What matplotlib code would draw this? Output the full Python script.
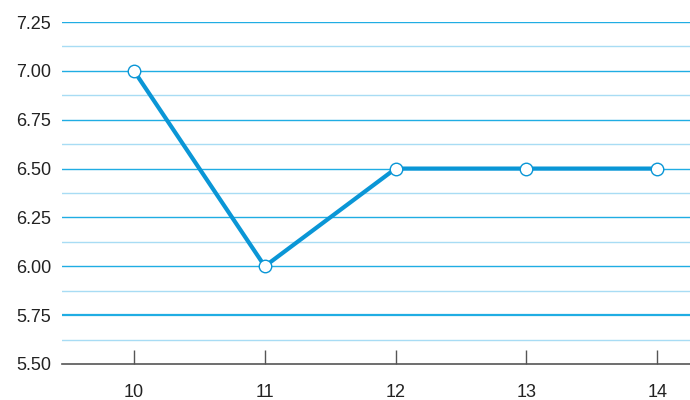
import matplotlib
matplotlib.use("Agg")
import matplotlib.pyplot as plt
import numpy as np

categories = [10, 11, 12, 13, 14]
values = [7.0, 6.0, 6.5, 6.5, 6.5]
y_ticks = [5.50, 5.75, 6.00, 6.25, 6.50, 6.75, 7.00, 7.25]
y_minor = [5.625, 5.875, 6.125, 6.375, 6.625, 6.875, 7.125]

plt.rcParams['font.family'] = ['Liberation Sans', 'DejaVu Sans']

fig = plt.figure(figsize=(6.9, 4.0), dpi=100)
ax = fig.add_axes([62/690, 1-364/400, 1-62/690, (364-22)/400])

for y in y_ticks[1:]:
    ax.axhline(y, color='#20ADE3', lw=1.6 if y == 5.75 else 1.0, zorder=1)
for y in y_minor:
    ax.axhline(y, color='#A8DCF4', lw=1.0, zorder=1)

ax.plot(categories, values, color='#0A96D6', lw=3.0, zorder=3,
        marker='o', markersize=9, markerfacecolor='white',
        markeredgecolor='#0A96D6', markeredgewidth=1.0, solid_capstyle='butt')

ax.set_xlim(9.45, 14.25)
ax.set_ylim(5.5, 7.25)
ax.set_xticks(categories)
ax.set_xticklabels([str(c) for c in categories])
ax.set_yticks(y_ticks)
ax.set_yticklabels([f"{v:.2f}" for v in y_ticks])

for s in ['top', 'right', 'left']:
    ax.spines[s].set_visible(False)
ax.spines['bottom'].set_color('#555555')
ax.spines['bottom'].set_linewidth(1.2)
ax.spines['bottom'].set_zorder(4)

ax.tick_params(axis='x', direction='in', length=10, width=1.0, color='#555555',
               labelsize=13, pad=14.5, labelcolor='#222222')
ax.tick_params(axis='y', length=0, labelsize=13, pad=8, labelcolor='#222222')

fig.savefig('out.png', dpi=100)
